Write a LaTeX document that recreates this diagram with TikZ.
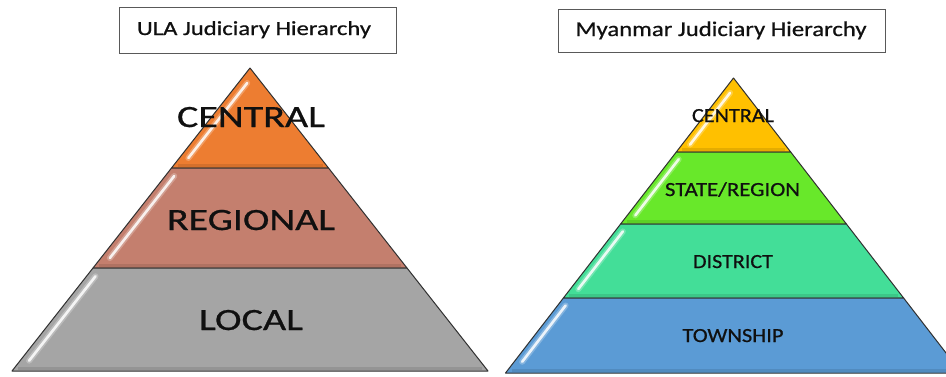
\documentclass[tikz,border=0pt]{standalone}
\usepackage{fontspec}
\setmainfont{Carlito}[FakeBold=0.6]
\usepackage{graphicx}
\usetikzlibrary{calc}

\definecolor{ulaTop}{HTML}{ED7D31}
\definecolor{ulaMid}{HTML}{C47F6E}
\definecolor{ulaLow}{HTML}{A5A5A5}
\definecolor{mmA}{HTML}{FFC000}
\definecolor{mmB}{HTML}{68E82A}
\definecolor{mmC}{HTML}{43DE98}
\definecolor{mmD}{HTML}{5B9BD5}
\definecolor{edge}{HTML}{303030}
\definecolor{ink}{HTML}{101010}

% text stretched to a given width, natural height kept
\newcommand\fitlabel[3]{\resizebox{#1}{\height}{\fontsize{#2}{#2}\selectfont #3}}

\tikzset{
  slice/.style={draw=edge, line width=1pt, line join=round},
  gloss/.style={draw=white, line width=2.6pt, line cap=round, opacity=0.85},
  glow/.style={draw=white, line width=6pt, line cap=round, opacity=0.25},
  bevel/.style={draw=black, line width=3pt, opacity=0.10},
  titlebox/.style={draw=edge!80, line width=1pt, fill=white},
  lbl/.style={anchor=base, inner sep=0pt, text=ink},
}

\begin{document}
\begin{tikzpicture}[x=1pt,y=-1pt]
\useasboundingbox (0,0) rectangle (946,376);
\clip (0,0) rectangle (946,376);
\fill[white] (0,0) rectangle (946,376);

% ---------- ULA pyramid ----------
\coordinate (A0) at (250,68);
\coordinate (A1l) at (171.5,168); \coordinate (A1r) at (328.5,168);
\coordinate (A2l) at (93,268);    \coordinate (A2r) at (407,268);
\coordinate (A3l) at (12,371);    \coordinate (A3r) at (488,371);

\filldraw[slice, fill=ulaTop] (A0) -- (A1r) -- (A1l) -- cycle;
\filldraw[slice, fill=ulaMid] (A1l) -- (A1r) -- (A2r) -- (A2l) -- cycle;
\filldraw[slice, fill=ulaLow] (A2l) -- (A2r) -- (A3r) -- (A3l) -- cycle;

% soft shade along the lower and right inner edges of each slice
\foreach \l/\r in {A1l/A1r, A2l/A2r, A3l/A3r}{
  \draw[bevel] ($(\l)+(6,-2.5)$) -- ($(\r)+(-6,-2.5)$);
}

\foreach \a/\b/\s/\e in {A0/A1l/0.15/0.9, A1l/A2l/0.08/0.9, A2l/A3l/0.08/0.9}{
  \draw[glow]  ($(\a)!\s!(\b)+(9,0)$) -- ($(\a)!\e!(\b)+(9,0)$);
  \draw[gloss] ($(\a)!\s!(\b)+(9,0)$) -- ($(\a)!\e!(\b)+(9,0)$);
}

% ---------- Myanmar pyramid ----------
\coordinate (B0) at (733.5,78);
\coordinate (B1l) at (676.3,152); \coordinate (B1r) at (790.7,152);
\coordinate (B2l) at (620.6,224); \coordinate (B2r) at (846.4,224);
\coordinate (B3l) at (563.4,298); \coordinate (B3r) at (903.6,298);
\coordinate (B4l) at (505.5,373); \coordinate (B4r) at (961.5,373);

\filldraw[slice, fill=mmA] (B0) -- (B1r) -- (B1l) -- cycle;
\filldraw[slice, fill=mmB] (B1l) -- (B1r) -- (B2r) -- (B2l) -- cycle;
\filldraw[slice, fill=mmC] (B2l) -- (B2r) -- (B3r) -- (B3l) -- cycle;
\filldraw[slice, fill=mmD] (B3l) -- (B3r) -- (B4r) -- (B4l) -- cycle;

\foreach \l/\r in {B1l/B1r, B2l/B2r, B3l/B3r, B4l/B4r}{
  \draw[bevel] ($(\l)+(6,-2.5)$) -- ($(\r)+(-6,-2.5)$);
}

\foreach \a/\b/\s/\e in {B0/B1l/0.2/0.9, B1l/B2l/0.1/0.88, B2l/B3l/0.1/0.88, B3l/B4l/0.1/0.85}{
  \draw[glow]  ($(\a)!\s!(\b)+(8,0)$) -- ($(\a)!\e!(\b)+(8,0)$);
  \draw[gloss] ($(\a)!\s!(\b)+(8,0)$) -- ($(\a)!\e!(\b)+(8,0)$);
}

% ---------- titles ----------
\node[titlebox, minimum width=277pt, minimum height=46pt, inner sep=0pt] (ulaBox) at (257.5,30) {};
\node[lbl] (ulaTitle) at (254,35) {\fitlabel{234pt}{20pt}{ULA Judiciary Hierarchy}};

\node[titlebox, minimum width=327pt, minimum height=43pt, inner sep=0pt] (mmBox) at (721.5,30.5) {};
\node[lbl] (mmTitle) at (721,36) {\fitlabel{291pt}{21pt}{Myanmar Judiciary Hierarchy}};

% ---------- level labels ----------
\node[lbl] (ulaC) at (251,127) {\fitlabel{148pt}{31pt}{CENTRAL}};
\node[lbl] (ulaR) at (251,230) {\fitlabel{168pt}{31pt}{REGIONAL}};
\node[lbl] (ulaL) at (251,330) {\fitlabel{104pt}{31pt}{LOCAL}};

\node[lbl] (mmC) at (733,122) {\fitlabel{82pt}{20pt}{CENTRAL}};
\node[lbl] (mmS) at (732.5,196) {\fitlabel{135pt}{20pt}{STATE/REGION}};
\node[lbl] (mmDi) at (733,268) {\fitlabel{80pt}{20pt}{DISTRICT}};
\node[lbl] (mmT) at (733,342) {\fitlabel{101pt}{20pt}{TOWNSHIP}};
\end{tikzpicture}
\end{document}
